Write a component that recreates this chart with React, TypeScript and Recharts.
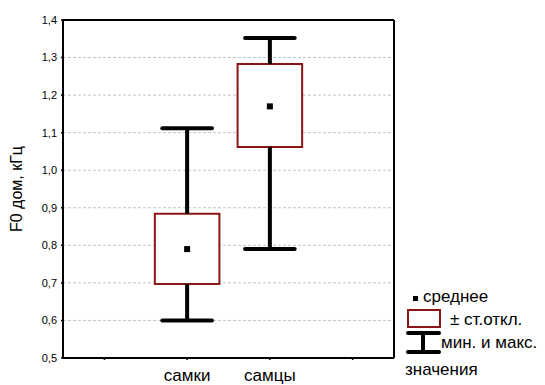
import {
  ComposedChart,
  Scatter,
  XAxis,
  YAxis,
  CartesianGrid,
  ReferenceArea,
  ReferenceLine,
  Legend,
} from "recharts";

// groups sit at x = 1.5 and 2.5 on a 0..4 axis, like the original plot
const categories = ["самки", "самцы"];
const positions = [1.5, 2.5];
const means = [0.79, 1.17];
const sdLow = [0.697, 1.062];
const sdHigh = [0.884, 1.283];
const mins = [0.6, 0.79];
const maxs = [1.112, 1.352];

const yTicks = [0.5, 0.6, 0.7, 0.8, 0.9, 1.0, 1.1, 1.2, 1.3, 1.4];
const xTicks = [0.5, 1.5, 2.5, 3.5];

const BOX_HALF = 0.39;  // in x units
const CAP_HALF = 0.3;
const BOX_RED = "#8b1414";
const FONT = "'Liberation Sans', Arial, sans-serif";

const meanData = positions.map((x, i) => ({ x, y: means[i] }));

function fmtComma(v: number): string {
  return v.toFixed(1).replace(".", ",");
}

function catLabel(v: number): string {
  const i = positions.indexOf(v);
  return i >= 0 ? categories[i] : "";
}

function MeanSquare(props: { cx?: number; cy?: number }) {
  const { cx = 0, cy = 0 } = props;
  return <rect x={cx - 3} y={cy - 3} width={6} height={6} fill="#000" />;
}

function LegendBox() {
  return (
    <svg width={140} height={96} style={{ display: "block", fontFamily: FONT }}>
      <rect x={8} y={11} width={5} height={5} fill="#000" />
      <text x={18} y={17} fontSize={17} fill="#000">среднее</text>
      <rect x={3} y={25} width={32} height={17} fill="#fff" stroke={BOX_RED} strokeWidth={2} />
      <text x={45} y={40} fontSize={17} fill="#000">± ст.откл.</text>
      <line x1={3} y1={48} x2={34} y2={48} stroke="#000" strokeWidth={4} strokeLinecap="round" />
      <line x1={3} y1={67} x2={34} y2={67} stroke="#000" strokeWidth={4} strokeLinecap="round" />
      <line x1={18} y1={48} x2={18} y2={67} stroke="#000" strokeWidth={4} />
      <text x={36} y={63} fontSize={17} fill="#000">мин. и макс.</text>
      <text x={0} y={90} fontSize={17} fill="#000">значения</text>
    </svg>
  );
}

export default function App() {
  return (
    <div style={{ position: "absolute", left: 0, top: 0, fontFamily: FONT }}>
      <ComposedChart
        width={545}
        height={385}
        data={meanData}
        margin={{ top: 20, right: 151, bottom: 0, left: 0 }}
      >
        <CartesianGrid
          vertical={false}
          stroke="#c4c4c4"
          strokeDasharray="3 2"
        />
        <XAxis
          dataKey="x"
          type="number"
          domain={[0, 4]}
          ticks={xTicks}
          height={27}
          tickFormatter={catLabel}
          tick={{ fontSize: 17, fill: "#000" }}
          tickSize={2}
          tickMargin={9}
          axisLine={{ stroke: "#000", strokeWidth: 2 }}
          tickLine={{ stroke: "#000", strokeWidth: 1.5 }}
          allowDataOverflow
        />
        <XAxis
          xAxisId="top"
          orientation="top"
          type="number"
          domain={[0, 4]}
          ticks={xTicks}
          tick={false}
          tickSize={2}
          mirror
          axisLine={{ stroke: "#000", strokeWidth: 2 }}
          tickLine={{ stroke: "#000", strokeWidth: 1.5 }}
          allowDataOverflow
        />
        <YAxis
          dataKey="y"
          type="number"
          domain={[0.5, 1.4]}
          ticks={yTicks}
          width={63}
          tickFormatter={fmtComma}
          tick={{ fontSize: 11, fill: "#000" }}
          tickSize={2}
          tickMargin={4}
          axisLine={{ stroke: "#000", strokeWidth: 2 }}
          tickLine={{ stroke: "#000", strokeWidth: 1.5 }}
          allowDataOverflow
          label={{
            value: "F0 дом, кГц",
            angle: -90,
            position: "center",
            dx: -15,
            style: { fontSize: 16, fill: "#000" },
          }}
        />
        <YAxis
          yAxisId="right"
          orientation="right"
          type="number"
          domain={[0.5, 1.4]}
          ticks={yTicks}
          tick={false}
          tickSize={2}
          mirror
          axisLine={{ stroke: "#000", strokeWidth: 2 }}
          tickLine={{ stroke: "#000", strokeWidth: 1.5 }}
          allowDataOverflow
        />

        {positions.map((x, i) => (
          <ReferenceLine
            key={`up-${i}`}
            segment={[{ x, y: sdHigh[i] }, { x, y: maxs[i] }]}
            stroke="#000"
            strokeWidth={4}
          />
        ))}
        {positions.map((x, i) => (
          <ReferenceLine
            key={`dn-${i}`}
            segment={[{ x, y: mins[i] }, { x, y: sdLow[i] }]}
            stroke="#000"
            strokeWidth={4}
          />
        ))}
        {positions.map((x, i) => (
          <ReferenceLine
            key={`capmax-${i}`}
            segment={[{ x: x - CAP_HALF, y: maxs[i] }, { x: x + CAP_HALF, y: maxs[i] }]}
            stroke="#000"
            strokeWidth={4}
            strokeLinecap="round"
          />
        ))}
        {positions.map((x, i) => (
          <ReferenceLine
            key={`capmin-${i}`}
            segment={[{ x: x - CAP_HALF, y: mins[i] }, { x: x + CAP_HALF, y: mins[i] }]}
            stroke="#000"
            strokeWidth={4}
            strokeLinecap="round"
          />
        ))}
        {positions.map((x, i) => (
          <ReferenceArea
            key={`box-${i}`}
            x1={x - BOX_HALF}
            x2={x + BOX_HALF}
            y1={sdLow[i]}
            y2={sdHigh[i]}
            fill="#fff"
            fillOpacity={1}
            stroke={BOX_RED}
            strokeWidth={2}
          />
        ))}

        <Scatter
          dataKey="y"
          data={meanData}
          shape={<MeanSquare />}
          isAnimationActive={false}
          legendType="none"
        />

        <Legend
          layout="horizontal"
          verticalAlign="middle"
          align="center"
          content={() => <LegendBox />}
          wrapperStyle={{ left: 405, top: 285, width: 140, height: 96 }}
        />
      </ComposedChart>
    </div>
  );
}
